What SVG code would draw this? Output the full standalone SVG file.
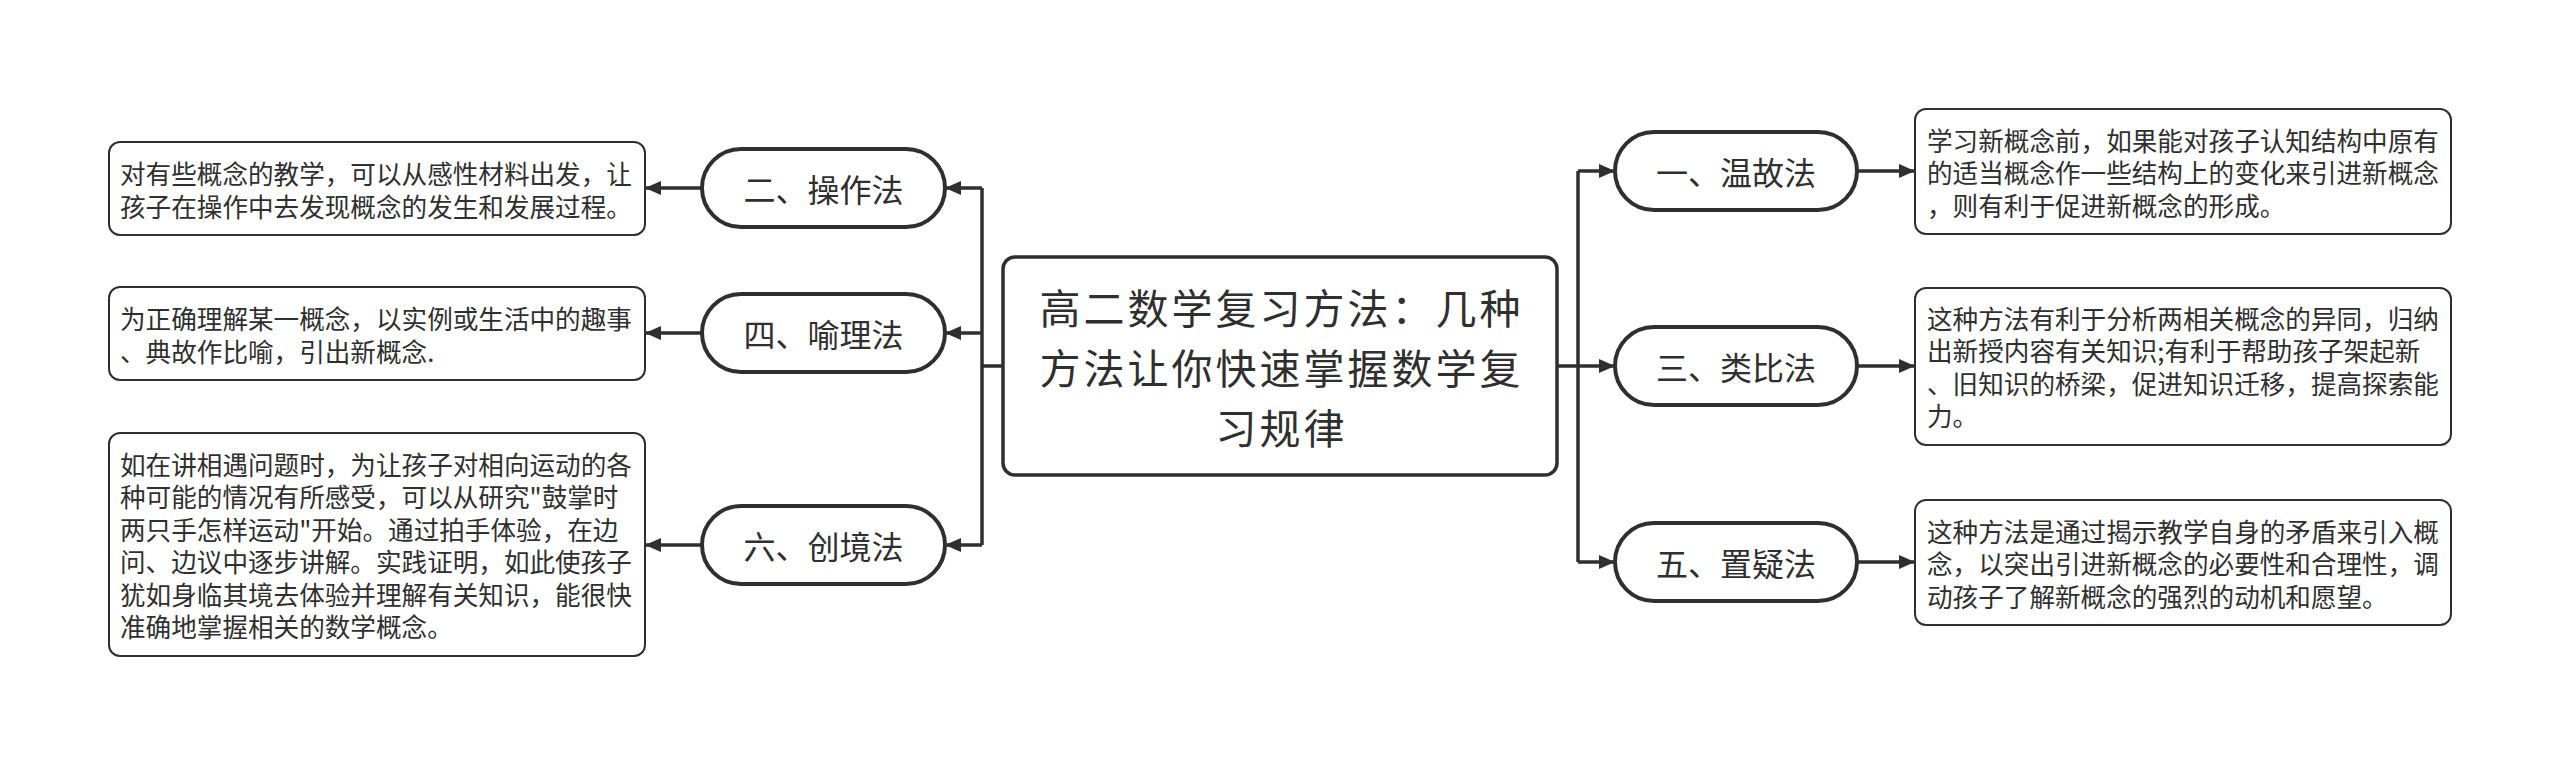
<svg xmlns="http://www.w3.org/2000/svg" width="2560" height="766" viewBox="0 0 2560 766">
<defs>
<marker id="arr" markerWidth="16" markerHeight="14" refX="15" refY="7" orient="auto" markerUnits="userSpaceOnUse">
<path d="M0,0 L16,7 L0,14 Z" fill="#2f2f2f"/>
</marker>
<style>
text{font-family:"Noto Sans CJK SC","Noto Sans",sans-serif;fill:#2f2f2f;dominant-baseline:central}
.title{font-size:41px;letter-spacing:3px;text-anchor:middle}
.pl{font-size:32px;text-anchor:middle}
.tx{font-size:25.6px}
.center{fill:#fff;stroke:#2f2f2f;stroke-width:3.5}
.pill{fill:#fff;stroke:#2f2f2f;stroke-width:4}
.box{fill:#fff;stroke:#2f2f2f;stroke-width:2}
.ln{fill:none;stroke:#2f2f2f;stroke-width:3.5}
</style>
</defs>
<rect width="2560" height="766" fill="#fff"/>
<g id="connectors">
<path class="ln" d="M1003,366 H982"/>
<path class="ln" d="M982,188 V545"/>
<path class="ln" d="M982,188 H946" marker-end="url(#arr)"/>
<path class="ln" d="M982,333 H946" marker-end="url(#arr)"/>
<path class="ln" d="M982,545 H946" marker-end="url(#arr)"/>
<path class="ln" d="M702,188 H646" marker-end="url(#arr)"/>
<path class="ln" d="M702,333 H646" marker-end="url(#arr)"/>
<path class="ln" d="M702,545 H646" marker-end="url(#arr)"/>
<path class="ln" d="M1557,366 H1578"/>
<path class="ln" d="M1578,171 V562"/>
<path class="ln" d="M1578,171 H1614" marker-end="url(#arr)"/>
<path class="ln" d="M1578,366 H1614" marker-end="url(#arr)"/>
<path class="ln" d="M1578,562 H1614" marker-end="url(#arr)"/>
<path class="ln" d="M1857,171 H1914" marker-end="url(#arr)"/>
<path class="ln" d="M1857,366 H1914" marker-end="url(#arr)"/>
<path class="ln" d="M1857,562 H1914" marker-end="url(#arr)"/>
</g>
<g id="root">
<rect class="center" x="1003" y="257" width="554" height="218" rx="12"/>
<text class="title" x="1281.5" y="306">高二数学复习方法：几种</text>
<text class="title" x="1281.5" y="366">方法让你快速掌握数学复</text>
<text class="title" x="1281.5" y="426">习规律</text>
</g>
<g id="n2">
<rect class="pill" x="702" y="149" width="243" height="78" rx="39"/>
<text class="pl" x="823.5" y="188">二、操作法</text>
</g>
<g id="n2t">
<rect class="box" x="109" y="142" width="536" height="93" rx="11"/>
<text class="tx" x="120" y="172">对有些概念的教学，可以从感性材料出发，让</text>
<text class="tx" x="120" y="205">孩子在操作中去发现概念的发生和发展过程。</text>
</g>
<g id="n4">
<rect class="pill" x="702" y="294" width="243" height="78" rx="39"/>
<text class="pl" x="823.5" y="333">四、喻理法</text>
</g>
<g id="n4t">
<rect class="box" x="109" y="287" width="536" height="93" rx="11"/>
<text class="tx" x="120" y="317">为正确理解某一概念，以实例或生活中的趣事</text>
<text class="tx" x="120" y="350">、典故作比喻，引出新概念.</text>
</g>
<g id="n6">
<rect class="pill" x="702" y="506" width="243" height="78" rx="39"/>
<text class="pl" x="823.5" y="545">六、创境法</text>
</g>
<g id="n6t">
<rect class="box" x="109" y="433" width="536" height="223" rx="11"/>
<text class="tx" x="120" y="463">如在讲相遇问题时，为让孩子对相向运动的各</text>
<text class="tx" x="120" y="495.5">种可能的情况有所感受，可以从研究"鼓掌时</text>
<text class="tx" x="120" y="528">两只手怎样运动"开始。通过拍手体验，在边</text>
<text class="tx" x="120" y="560.5">问、边议中逐步讲解。实践证明，如此使孩子</text>
<text class="tx" x="120" y="593">犹如身临其境去体验并理解有关知识，能很快</text>
<text class="tx" x="120" y="625.5">准确地掌握相关的数学概念。</text>
</g>
<g id="n1">
<rect class="pill" x="1615" y="132" width="242" height="78" rx="39"/>
<text class="pl" x="1736" y="171">一、温故法</text>
</g>
<g id="n1t">
<rect class="box" x="1915" y="109" width="536" height="125" rx="11"/>
<text class="tx" x="1927" y="139">学习新概念前，如果能对孩子认知结构中原有</text>
<text class="tx" x="1927" y="171.5">的适当概念作一些结构上的变化来引进新概念</text>
<text class="tx" x="1927" y="204">，则有利于促进新概念的形成。</text>
</g>
<g id="n3">
<rect class="pill" x="1615" y="327" width="242" height="78" rx="39"/>
<text class="pl" x="1736" y="366">三、类比法</text>
</g>
<g id="n3t">
<rect class="box" x="1915" y="288" width="536" height="157" rx="11"/>
<text class="tx" x="1927" y="317">这种方法有利于分析两相关概念的异同，归纳</text>
<text class="tx" x="1927" y="349.5">出新授内容有关知识;有利于帮助孩子架起新</text>
<text class="tx" x="1927" y="382">、旧知识的桥梁，促进知识迁移，提高探索能</text>
<text class="tx" x="1927" y="414.5">力。</text>
</g>
<g id="n5">
<rect class="pill" x="1615" y="523" width="242" height="78" rx="39"/>
<text class="pl" x="1736" y="562">五、置疑法</text>
</g>
<g id="n5t">
<rect class="box" x="1915" y="500" width="536" height="125" rx="11"/>
<text class="tx" x="1927" y="530">这种方法是通过揭示教学自身的矛盾来引入概</text>
<text class="tx" x="1927" y="562.5">念，以突出引进新概念的必要性和合理性，调</text>
<text class="tx" x="1927" y="595">动孩子了解新概念的强烈的动机和愿望。</text>
</g>
</svg>
